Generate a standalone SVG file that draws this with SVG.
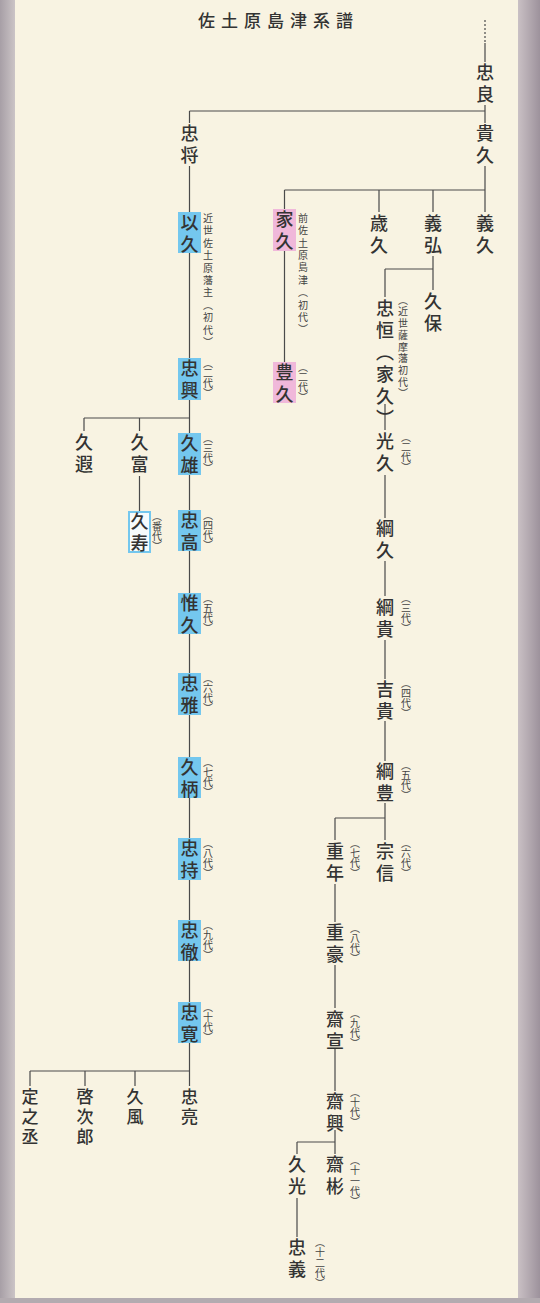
<svg xmlns="http://www.w3.org/2000/svg" width="540" height="1303" viewBox="0 0 540 1303">
<defs>
<style>
.n{font-family:"Noto Sans CJK JP","Noto Sans CJK SC",sans-serif;font-size:18px;font-weight:500;fill:#333;writing-mode:vertical-rl;letter-spacing:4px}
.s{letter-spacing:3px;font-size:17px}
.a{font-family:"Noto Sans CJK JP","Noto Sans CJK SC",sans-serif;font-size:10px;fill:#444;writing-mode:vertical-rl}
.ln{stroke:#4a4a4a;stroke-width:1.2;fill:none}
.bb{fill:#74c7ee}
.pb{fill:#f0b8da}
</style>
<linearGradient id="lg" x1="0" x2="1" y1="0" y2="0"><stop offset="0" stop-color="#a79fa6"/><stop offset="1" stop-color="#cbc4c6"/></linearGradient>
<linearGradient id="rg" x1="0" x2="1" y1="0" y2="0"><stop offset="0" stop-color="#c9c0c4"/><stop offset="1" stop-color="#9d929c"/></linearGradient>
</defs>
<rect x="0" y="0" width="540" height="1303" fill="#f8f3e2"/>
<rect x="0" y="0" width="15" height="1303" fill="url(#lg)"/>
<rect x="518" y="0" width="22" height="1303" fill="url(#rg)"/>
<rect x="0" y="1298" width="540" height="5" fill="#b3abb0"/>

<text x="198" y="27" font-family="Noto Sans CJK JP, sans-serif" font-size="17" font-weight="500" fill="#333" letter-spacing="6">佐土原島津系譜</text>

<g id="connectors" class="ln">
<path d="M485 20V43" stroke-dasharray="2 2"/>
<path d="M485 43V62M485 105V123M485 166V212"/>
<path d="M189.5 111H485M189.5 111V123M189.5 166V212M189.5 253V358M189.5 400V433M189.5 475V510M189.5 551V593M189.5 634V673M189.5 715V757M189.5 798V838M189.5 880V920M189.5 961V1002M189.5 1043V1086"/>
<path d="M284.5 190H485M284.5 190V209M284.5 251V362M379 190V212M433 190V212"/>
<path d="M433 256V290M385 269H433M385 269V297"/>
<path d="M385 404V430M385 475V518M385 561V596M385 640V679M385 721V761M385 803V840M335 818H385M335 818V840"/>
<path d="M335 884V922M335 965V1008M335 1048V1091M335 1130V1154M297 1142H335M297 1142V1154M297 1198V1237"/>
<path d="M84 418H189.5M84 418V431M139.5 418V431M139.5 476V511"/>
<path d="M30 1071H189.5M30 1071V1086M85 1071V1086M135 1071V1086"/>
</g>

<g id="n-tadayoshi"><text class="n" x="485" y="63">忠良</text></g>
<g id="n-takahisa"><text class="n" x="485" y="124">貴久</text></g>
<g id="n-tadamasa"><text class="n" x="189.5" y="124">忠将</text></g>
<g id="n-yoshihisa"><text class="n" x="485" y="214">義久</text></g>
<g id="n-yoshihiro"><text class="n" x="433" y="214">義弘</text></g>
<g id="n-toshihisa"><text class="n" x="379" y="214">歳久</text></g>

<g id="n-iehisa"><rect class="pb" x="273" y="209" width="23" height="42"/><text class="n" x="284.5" y="210">家久</text><text class="a" x="303" y="213" letter-spacing="2.4">前佐土原島津（初代）</text></g>
<g id="n-toyohisa"><rect class="pb" x="273" y="362" width="23" height="41"/><text class="n" x="284.5" y="363">豊久</text><text class="a" x="303" y="362">（二代）</text></g>

<g id="n-yukihisa"><rect class="bb" x="178" y="212" width="23" height="41"/><text class="n" x="189.5" y="213">以久</text><text class="a" x="208" y="213" letter-spacing="2.45">近世佐土原藩主（初代）</text></g>
<g id="n-tadaoki"><rect class="bb" x="178" y="358" width="23" height="42"/><text class="n" x="189.5" y="359">忠興</text><text class="a" x="208" y="358">（二代）</text></g>
<g id="n-hisatoo"><text class="n" x="84" y="433">久遐</text></g>
<g id="n-hisatomi"><text class="n" x="139.5" y="433">久富</text></g>
<g id="n-hisakatsu"><rect class="bb" x="178" y="433" width="23" height="42"/><text class="n" x="189.5" y="434">久雄</text><text class="a" x="208" y="433">（三代）</text></g>
<g id="n-hisanaga"><rect x="129" y="512" width="21" height="40" fill="#f6fbfc" stroke="#74c7ee" stroke-width="2"/><text class="n" x="139.5" y="512">久寿</text><text class="a" x="157" y="511">（番代）</text></g>
<g id="n-tadataka"><rect class="bb" x="178" y="510" width="23" height="41"/><text class="n" x="189.5" y="511">忠高</text><text class="a" x="208" y="510">（四代）</text></g>
<g id="n-korehisa"><rect class="bb" x="178" y="593" width="23" height="41"/><text class="n" x="189.5" y="594">惟久</text><text class="a" x="208" y="593">（五代）</text></g>
<g id="n-tadamasa2"><rect class="bb" x="178" y="673" width="23" height="42"/><text class="n" x="189.5" y="674">忠雅</text><text class="a" x="208" y="673">（六代）</text></g>
<g id="n-hisamoto"><rect class="bb" x="178" y="757" width="23" height="41"/><text class="n" x="189.5" y="758">久柄</text><text class="a" x="208" y="757">（七代）</text></g>
<g id="n-tadamochi"><rect class="bb" x="178" y="838" width="23" height="42"/><text class="n" x="189.5" y="839">忠持</text><text class="a" x="208" y="838">（八代）</text></g>
<g id="n-tadamichi"><rect class="bb" x="178" y="920" width="23" height="41"/><text class="n" x="189.5" y="921">忠徹</text><text class="a" x="208" y="920">（九代）</text></g>
<g id="n-tadahiro"><rect class="bb" x="178" y="1002" width="23" height="41"/><text class="n" x="189.5" y="1003">忠寛</text><text class="a" x="208" y="1002">（十代）</text></g>

<g id="n-sadanojo"><text class="n s" x="30" y="1088">定之丞</text></g>
<g id="n-keijiro"><text class="n s" x="85" y="1088">啓次郎</text></g>
<g id="n-hisakaze"><text class="n s" x="135" y="1088">久風</text></g>
<g id="n-tadaakira"><text class="n s" x="189.5" y="1088">忠亮</text></g>

<g id="n-hisayasu"><text class="n" x="433" y="292">久保</text></g>
<g id="n-tadatsune"><text class="n" x="385" y="299" letter-spacing="-0.5">忠恒（家久）</text><text class="a" x="403" y="295" letter-spacing="1.7">（近世薩摩藩初代）</text></g>
<g id="n-mitsuhisa"><text class="n" x="385" y="432" letter-spacing="3">光久</text><text class="a" x="406" y="432">（二代）</text></g>
<g id="n-tsunahisa"><text class="n" x="385" y="519" letter-spacing="3">綱久</text></g>
<g id="n-tsunataka"><text class="n" x="385" y="598" letter-spacing="2">綱貴</text><text class="a" x="406" y="593">（三代）</text></g>
<g id="n-yoshitaka"><text class="n" x="385" y="680" letter-spacing="1">吉貴</text><text class="a" x="406" y="678">（四代）</text></g>
<g id="n-tsugutoyo"><text class="n" x="385" y="762" letter-spacing="2">綱豊</text><text class="a" x="406" y="760">（五代）</text></g>
<g id="n-munenobu"><text class="n" x="385" y="842" letter-spacing="0.5">宗信</text><text class="a" x="406" y="838">（六代）</text></g>
<g id="n-shigetoshi"><text class="n" x="335" y="842" letter-spacing="0.5">重年</text><text class="a" x="355" y="838">（七代）</text></g>
<g id="n-shigehide"><text class="n" x="335" y="923" letter-spacing="3">重豪</text><text class="a" x="355" y="923">（八代）</text></g>
<g id="n-narinobu"><text class="n" x="335" y="1010" letter-spacing="0">齋宣</text><text class="a" x="355" y="1008">（九代）</text></g>
<g id="n-narioki"><text class="n" x="335" y="1092" letter-spacing="0">齋興</text><text class="a" x="355" y="1087">（十代）</text></g>
<g id="n-nariakira"><text class="n" x="335" y="1155" letter-spacing="3">齋彬</text><text class="a" x="355" y="1155" letter-spacing="0.4">（十一代）</text></g>
<g id="n-hisamitsu"><text class="n" x="297" y="1155" letter-spacing="3">久光</text></g>
<g id="n-tadayoshi2"><text class="n" x="297" y="1238" letter-spacing="3">忠義</text><text class="a" x="320" y="1237" letter-spacing="0.4">（十二代）</text></g>
</svg>
